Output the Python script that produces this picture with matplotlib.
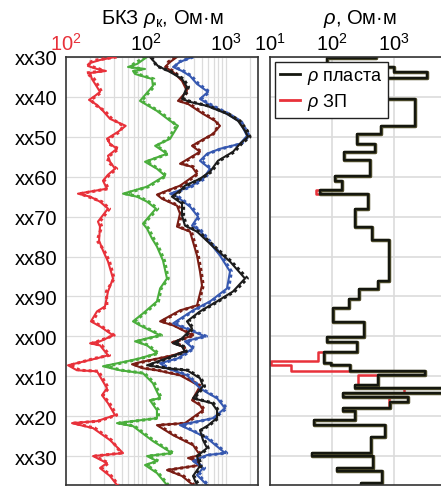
import matplotlib
matplotlib.use('Agg')
import matplotlib.pyplot as plt
from matplotlib.ticker import FixedLocator, LogLocator, NullFormatter

plt.rcParams['font.family'] = ['Liberation Sans', 'DejaVu Sans']
plt.rcParams['mathtext.fontset'] = 'custom'
plt.rcParams['mathtext.rm'] = 'Liberation Sans'
plt.rcParams['mathtext.it'] = 'Liberation Sans:italic'

# ---- БКЗ curves (depth, apparent resistivity) ----
red_d = [1030, 1030.75, 1031.5, 1032.25, 1033, 1033.5, 1034, 1035.5, 1037.5, 1038.75,
         1039.75, 1040.75, 1042, 1043.5, 1045.5, 1047.25, 1048.75, 1050.5, 1051.75, 1053,
         1054.75, 1056.25, 1058, 1059.5, 1061, 1063, 1064.25, 1065, 1066.25, 1068,
         1071.25, 1072.5, 1076, 1078.5, 1081.25, 1085.5, 1088.75, 1092.5, 1093.75, 1096.25,
         1097.5, 1099.75, 1101.25, 1101.75, 1102.25, 1104.75, 1105.5, 1107.25, 1108.5, 1108.75,
         1113, 1114.75, 1116.75, 1119.75, 1121.25, 1121.75, 1123, 1126, 1129.25, 1130,
         1131.75, 1133, 1135, 1137.25]
red_s = [410, 266, 200, 188, 244, 316, 200, 211, 244, 266, 230, 194, 244, 290, 355, 557, 447, 325, 355, 434,
         335, 355, 410, 335, 290, 325, 141, 200, 266, 335, 251, 266, 259, 290, 335, 387, 335, 307, 244, 205,
         266, 387, 266, 200, 266, 335, 244, 106, 137, 244, 325, 282, 335, 410, 244, 119, 218, 355, 516, 218,
         325, 266, 355, 434]
red_m = [430, 240, 185, 200, 262, 290, 180, 225, 258, 280, 240, 205, 232, 305, 375, 520, 470, 340, 340, 455,
         350, 330, 430, 350, 300, 340, 150, 190, 280, 350, 265, 280, 245, 300, 350, 400, 320, 325, 255, 215,
         280, 400, 250, 210, 280, 350, 230, 112, 150, 255, 340, 290, 350, 430, 255, 125, 230, 370, 490, 230,
         340, 280, 370, 450]

green_d = [1030, 1031.75, 1032.5, 1033, 1033.5, 1034.25, 1035.5, 1037.25, 1041, 1043.5,
           1046, 1047.25, 1050.5, 1052.25, 1054.25, 1056.25, 1058, 1059.75, 1062.5, 1064.25,
           1065, 1066.25, 1068, 1071.75, 1073, 1075.5, 1077.5, 1081, 1085.5, 1088,
           1091.25, 1094.25, 1096.25, 1097.25, 1099.75, 1101.25, 1102.25, 1104.25, 1105.5, 1106.25,
           1107.5, 1108.5, 1109.25, 1111.75, 1115.5, 1116, 1118.5, 1120.5, 1121.75, 1122.5,
           1126.25, 1129.25, 1130, 1131.25, 1132.25, 1134.25, 1137.25]
green_s = [103, 77.2, 59.6, 97.2, 68.8, 72.9, 119, 122, 84.1, 137, 200, 251, 200, 130, 183, 97.2, 137, 173, 103, 51.6,
           77.2, 103, 133, 91.7, 103, 119, 137, 163, 183, 150, 137, 91.7, 68.8, 84.1, 150, 72.9, 103, 137, 84.1, 57.9,
           29, 47.3, 91.7, 122, 150, 112, 137, 137, 43.4, 68.8, 122, 211, 103, 137, 97.2, 137, 183]
green_m = [98, 70, 64, 90, 74, 78, 125, 128, 88, 143, 210, 240, 190, 136, 190, 102, 143, 180, 108, 55,
           82, 108, 140, 95, 108, 125, 143, 170, 190, 155, 143, 96, 72, 88, 156, 77, 108, 143, 88, 62,
           32, 50, 96, 128, 156, 117, 143, 143, 46, 72, 128, 220, 108, 143, 102, 143, 190]

brown_d = [1030, 1031.25, 1032.5, 1033.75, 1036, 1038.5, 1041, 1041.75, 1044.25, 1046,
           1047.25, 1049.25, 1052.25, 1053.75, 1056.75, 1057.5, 1059.25, 1062.25, 1063.5, 1064.5,
           1065.5, 1067.25, 1069.25, 1072.5, 1073.75, 1079.75, 1083.75, 1087.25, 1092.25, 1093.5,
           1096.25, 1097.25, 1099.75, 1101.5, 1102.5, 1103.75, 1104.75, 1106.5, 1107, 1108,
           1108.5, 1109.75, 1112.5, 1116, 1117.25, 1118.5, 1121.75, 1122.25, 1124.75, 1127.25,
           1129.75, 1130.5, 1131.25, 1132.25, 1133.5, 1135, 1137.25]
brown_s = [244, 200, 173, 218, 282, 325, 251, 335, 516, 729, 841, 688, 376, 473, 266, 376, 434, 266, 183, 137,
           158, 244, 266, 244, 355, 434, 473, 501, 434, 266, 150, 218, 387, 211, 282, 307, 218, 84.1, 66.8, 91.7,
           137, 266, 473, 376, 473, 516, 307, 137, 218, 387, 473, 335, 434, 473, 183, 282, 387]
brown_m = [230, 190, 180, 228, 295, 340, 262, 350, 540, 760, 800, 700, 390, 490, 280, 390, 450, 280, 190, 143,
           165, 255, 280, 255, 370, 450, 490, 520, 450, 280, 157, 228, 400, 220, 295, 320, 228, 88, 70, 96,
           143, 280, 490, 390, 490, 540, 320, 143, 228, 400, 490, 350, 450, 490, 190, 295, 400]

black_d = [1030, 1032.25, 1033.75, 1035.5, 1037.5, 1040.5, 1041.25, 1042.25, 1044.25, 1046,
           1048.5, 1050, 1051.75, 1053.75, 1056, 1058.75, 1060.5, 1062.25, 1063.5, 1065,
           1066.75, 1069.75, 1072.25, 1073.75, 1077.5, 1081.25, 1085.5, 1088.75, 1091.25, 1093.75,
           1096.25, 1098, 1100.5, 1101.75, 1102.5, 1103.75, 1105.5, 1107.25, 1108, 1108.5,
           1110.5, 1112.5, 1115.5, 1116.75, 1118.5, 1120.5, 1122.5, 1123.5, 1126, 1128,
           1130, 1132.5, 1135, 1137.25]
black_s = [112, 141, 200, 282, 325, 282, 355, 579, 1029, 1413, 1728, 1884, 1496, 1224, 794, 631, 473, 307, 266, 211,
           282, 282, 307, 434, 688, 1122, 1728, 1224, 772, 473, 325, 376, 282, 218, 282, 307, 183, 103, 183, 325,
           473, 516, 387, 668, 772, 772, 579, 473, 516, 579, 434, 473, 387, 434]
black_m = [118, 135, 210, 295, 340, 295, 370, 600, 1080, 1500, 1850, 2000, 1560, 1280, 830, 660, 490, 320, 275, 220,
           295, 295, 320, 455, 720, 1170, 1850, 1280, 800, 490, 340, 390, 295, 228, 295, 320, 190, 108, 190, 340,
           490, 540, 400, 700, 800, 800, 600, 490, 540, 600, 455, 490, 400, 455]

blue_d = [1030, 1031.25, 1032.5, 1033.5, 1034.75, 1036.75, 1038.75, 1040.5, 1041.75, 1044.25,
          1046.25, 1049.75, 1051.75, 1053, 1054.25, 1056, 1058, 1060.5, 1062.5, 1064.25,
          1065, 1067.5, 1070, 1072.25, 1073.5, 1079.75, 1083.75, 1088, 1091.25, 1093.5,
          1096.75, 1098.75, 1100, 1101.25, 1103, 1105.5, 1106.75, 1108, 1109.75, 1113,
          1114.25, 1115.5, 1118, 1120.5, 1122.25, 1123.75, 1125.5, 1129.25, 1129.75, 1131.25,
          1133, 1134.75, 1137.25]
blue_s = [376, 266, 218, 282, 355, 434, 596, 473, 596, 1029, 1496, 1830, 1496, 841, 579, 473, 631, 516, 355, 200,
          244, 355, 447, 376, 473, 841, 1122, 1029, 631, 387, 218, 387, 546, 307, 387, 251, 150, 183, 325, 473,
          596, 772, 972, 688, 266, 387, 579, 972, 579, 387, 516, 434, 579]
blue_m = [390, 255, 228, 295, 370, 455, 620, 490, 620, 1080, 1560, 1950, 1560, 880, 600, 490, 660, 540, 370, 210,
          255, 370, 470, 390, 490, 880, 1170, 1080, 660, 400, 228, 400, 570, 320, 400, 262, 157, 190, 340, 490,
          620, 800, 1020, 720, 280, 400, 600, 1020, 600, 400, 540, 455, 600]

# ---- layered model (top of each layer, resistivity) ----
layer_top = [1030, 1030.25, 1032.5, 1033.75, 1035.25, 1040.5, 1047.2, 1049.25, 1051.75, 1053.8,
             1055.9, 1059.7, 1061.1, 1063.25, 1064.4, 1068.2, 1072.6, 1075.9, 1086.1, 1088.2,
             1090.7, 1092.8, 1096.3, 1100.1, 1101.3, 1104, 1106.75, 1107.3, 1108.7, 1109.8,
             1112.2, 1113, 1114.25, 1115.3, 1116.5, 1118, 1118.8, 1120.9, 1122.2, 1125.1,
             1129.25, 1130.1, 1133, 1133.8, 1136.75]
rho_t = [507, 83, 1000, 3350, 288, 2150, 612, 254, 494, 157, 409, 112, 144, 64, 379, 232, 436, 837, 541, 270,
         185, 103, 326, 82, 247, 74, 96, 192, 3070, 541, 232, 7000, 147, 1680, 869, 147, 232, 51, 711, 420,
         48, 448, 122, 628, 288]
zp_top = [1030, 1030.25, 1032.5, 1033.75, 1035.25, 1040.5, 1047.2, 1049.25, 1051.75, 1053.8,
          1055.9, 1059.7, 1061.1, 1063.25, 1064.4, 1068.2, 1072.6, 1075.9, 1086.1, 1088.2,
          1090.7, 1092.8, 1096.3, 1100.1, 1101.3, 1104, 1106.3, 1107.3, 1108.7, 1109.8,
          1112.2, 1113, 1114.25, 1115.3, 1116.5, 1118, 1118.8, 1120.9, 1122.2, 1125.1,
          1129.25, 1130.1, 1133, 1133.8, 1136.75]
rho_zp = [507, 83, 1000, 3350, 288, 2150, 612, 254, 494, 157, 409, 112, 144, 56, 379, 232, 436, 837, 541, 270,
          185, 103, 326, 82, 247, 60, 10.3, 22, 3070, 257, 232, 1460, 147, 818, 818, 147, 232, 51, 711, 420,
          48, 448, 122, 628, 288]

depth_ticks = [1030, 1040, 1050, 1060, 1070, 1080, 1090, 1100, 1110, 1120, 1130]
depth_labels = ['xx30', 'xx40', 'xx50', 'xx60', 'xx70', 'xx80', 'xx90', 'xx00', 'xx10', 'xx20', 'xx30']
d_bottom = 1137.25


def steps(tops, vals, bottom):
    xs, ys = [], []
    for i, v in enumerate(vals):
        b = tops[i + 1] if i + 1 < len(tops) else bottom
        xs += [v, v]
        ys += [tops[i], b]
    return xs, ys


grid_c = '#dcdcdc'
spine_c = '#333333'
fs = 14.5

fig = plt.figure(figsize=(4.41, 4.89), dpi=100)
ax = fig.add_axes([66 / 441, 3 / 489, 192 / 441, 428 / 489])
ax2 = ax.twiny()
axr = fig.add_axes([270 / 441, 3 / 489, 180 / 441, 428 / 489])

# left track
ax.set_xscale('log')
ax.set_xlim(10, 2512)
ax.set_ylim(d_bottom, 1030)
ax.xaxis.set_major_locator(FixedLocator([100, 1000]))
ax.xaxis.set_minor_locator(LogLocator(base=10, subs=range(2, 10)))
ax.xaxis.set_minor_formatter(NullFormatter())
ax.xaxis.tick_top()
ax.grid(True, which='both', axis='x', color=grid_c, lw=0.9)
ax.grid(True, which='major', axis='y', color=grid_c, lw=0.9)
ax.set_axisbelow(True)
ax.set_yticks(depth_ticks)
ax.set_yticklabels(depth_labels)
ax.tick_params(which='both', length=0, labelsize=fs, pad=6)
ax.tick_params(axis='x', pad=2)
for s in ax.spines.values():
    s.set_color(spine_c)
    s.set_linewidth(1.2)

dot = (0, (1.0, 1.0))
for d, s_, m_, c in [(green_d, green_s, green_m, '#4aae3c'),
                     (brown_d, brown_s, brown_m, '#7a1d14'),
                     (blue_d, blue_s, blue_m, '#3658b0'),
                     (black_d, black_s, black_m, '#1c1c1c')]:
    ax.plot(m_, d, color=c, lw=2.2, ls=dot)
    ax.plot(s_, d, color=c, lw=1.5)

ax2.set_xscale('log')
ax2.set_xlim(100, 25120)
ax2.xaxis.set_major_locator(FixedLocator([100]))
ax2.xaxis.set_minor_locator(FixedLocator([]))
ax2.tick_params(which='both', length=0, labelsize=fs, labelcolor='#e8313a', pad=2)
for s in ax2.spines.values():
    s.set_visible(False)
ax2.plot(red_m, red_d, color='#e8313a', lw=2.2, ls=dot)
ax2.plot(red_s, red_d, color='#e8313a', lw=1.5)
ax.set_title('БКЗ $\\rho_{\\mathrm{к}}$, Ом·м', fontsize=fs, pad=7)

# right track
axr.set_xscale('log')
axr.set_xlim(10, 7900)
axr.set_ylim(d_bottom, 1030)
axr.xaxis.set_major_locator(FixedLocator([10, 100, 1000]))
axr.xaxis.set_minor_locator(FixedLocator([]))
axr.xaxis.tick_top()
axr.set_yticks(depth_ticks)
axr.set_yticklabels([])
axr.grid(True, which='major', color=grid_c, lw=1.2)
axr.set_axisbelow(True)
axr.tick_params(which='both', length=0, labelsize=fs, pad=2)
for s in axr.spines.values():
    s.set_color(spine_c)
    s.set_linewidth(1.2)

zx, zy = steps(zp_top, rho_zp, d_bottom)
tx, ty = steps(layer_top, rho_t, d_bottom)
axr.plot(zx, zy, color='#e8313a', lw=1.8, label='$\\rho$ ЗП')
axr.plot(tx, ty, color='#4d4b2a', lw=2.5)
axr.plot(tx, ty, color='#15170f', lw=1.6, label='$\\rho$ пласта')
h, l = axr.get_legend_handles_labels()
leg = axr.legend([h[1], h[0]], [l[1], l[0]], loc='upper left', fontsize=13,
                 fancybox=False, framealpha=1, edgecolor='#222222', handlelength=1.1,
                 handletextpad=0.4, borderaxespad=0.25, borderpad=0.3, labelspacing=0.3)
leg.get_frame().set_linewidth(1.0)
for ln in leg.get_lines():
    ln.set_linewidth(2.0)
axr.set_title('$\\rho$, Ом·м', fontsize=fs, pad=7)

fig.savefig('out.png', dpi=100)
